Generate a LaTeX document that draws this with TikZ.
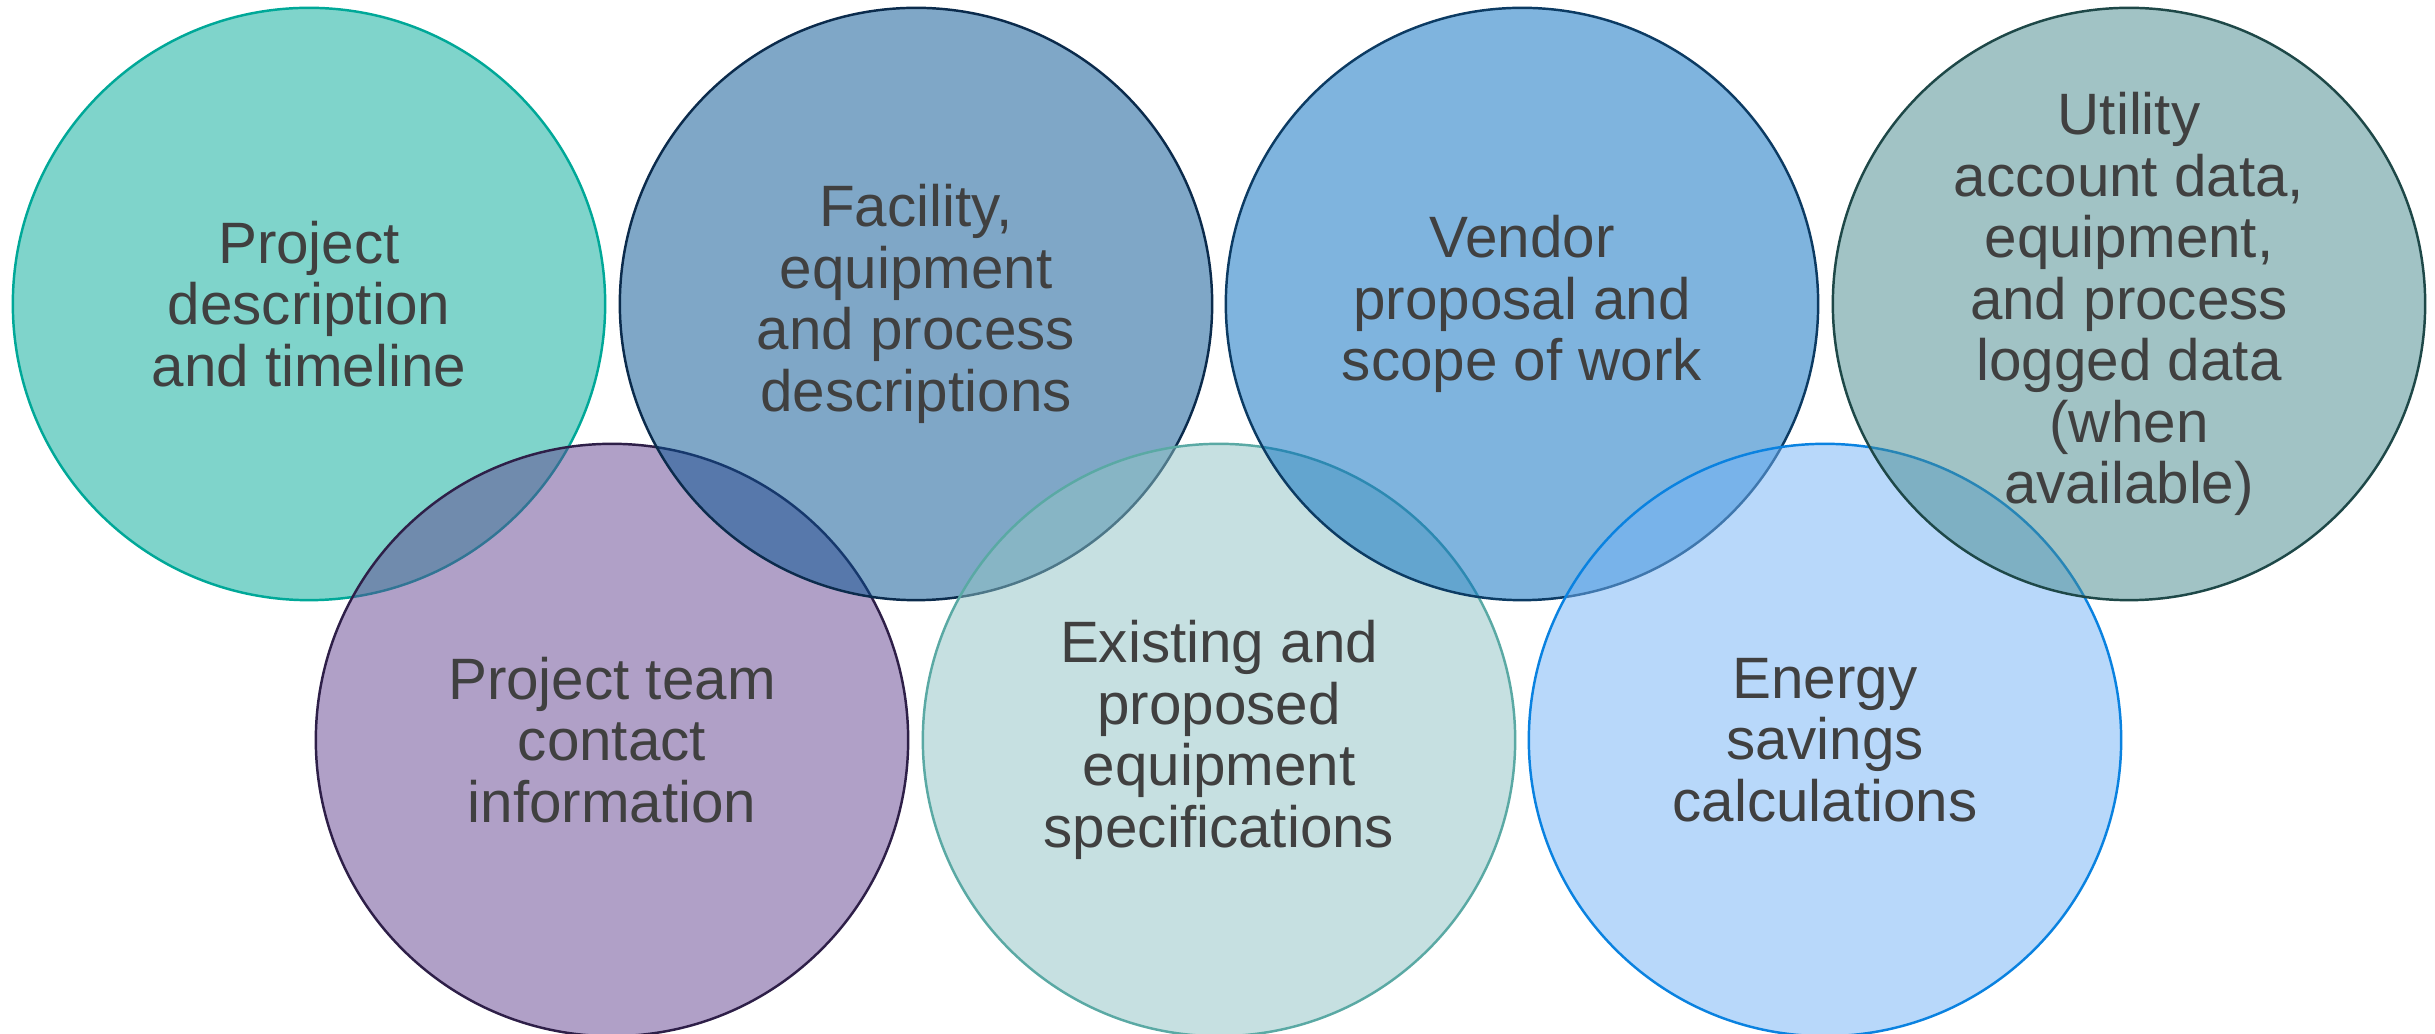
\documentclass[tikz,border=0pt]{standalone}
\usepackage{fontspec}
\setmainfont{Liberation Sans}
\usepackage{tikz}

\definecolor{txtgray}{RGB}{64,64,64}
\definecolor{tealfill}{RGB}{0,171,153}
\definecolor{tealline}{RGB}{0,168,152}
\definecolor{navyfill}{RGB}{0,81,145}
\definecolor{navyline}{RGB}{11,43,76}
\definecolor{bluefill}{RGB}{1,107,191}
\definecolor{blueline}{RGB}{12,59,99}
\definecolor{slatefill}{RGB}{69,137,141}
\definecolor{slateline}{RGB}{30,72,72}
\definecolor{plumfill}{RGB}{99,67,145}
\definecolor{plumline}{RGB}{46,31,72}
\definecolor{mintfill}{RGB}{143,195,197}
\definecolor{mintline}{RGB}{90,169,164}
\definecolor{skyfill}{RGB}{115,179,247}
\definecolor{skyline}{RGB}{10,130,224}

\begin{document}
\begin{tikzpicture}[x = 0.01cm, y = -0.01cm,
                        topic/.style = {circle, draw, line width = 0.7pt, fill opacity = 0.5, text opacity = 1,
                                        minimum size = 5.92cm, inner sep = 0pt, align = center, text = txtgray,
                                        font = \fontsize{16.6}{17.5}\selectfont}]
      \useasboundingbox (0, 0) rectangle (2435, 1034);
      \fill [white] (0, 0) rectangle (2435, 1034);
      % zigzag order: top, bottom, top, ...
      \node [topic, draw = tealline, fill = tealfill] (desc) at (309, 304)
            {Project\\description\\and timeline};
      \node [topic, draw = plumline, fill = plumfill] (team) at (612, 740)
            {Project team\\contact\\information};
      \node [topic, draw = navyline, fill = navyfill] (facility) at (916, 304)
            {Facility,\\equipment\\and process\\descriptions};
      \node [topic, draw = mintline, fill = mintfill] (specs) at (1219, 740)
            {Existing and\\proposed\\equipment\\specifications};
      \node [topic, draw = blueline, fill = bluefill] (vendor) at (1522, 304)
            {Vendor\\proposal and\\scope of work};
      \node [topic, draw = skyline, fill = skyfill] (savings) at (1825, 740)
            {Energy\\savings\\calculations};
      \node [topic, draw = slateline, fill = slatefill] (utility) at (2129, 304)
            {Utility\\account data,\\equipment,\\and process\\logged data\\(when\\available)};
    \end{tikzpicture}
\end{document}
